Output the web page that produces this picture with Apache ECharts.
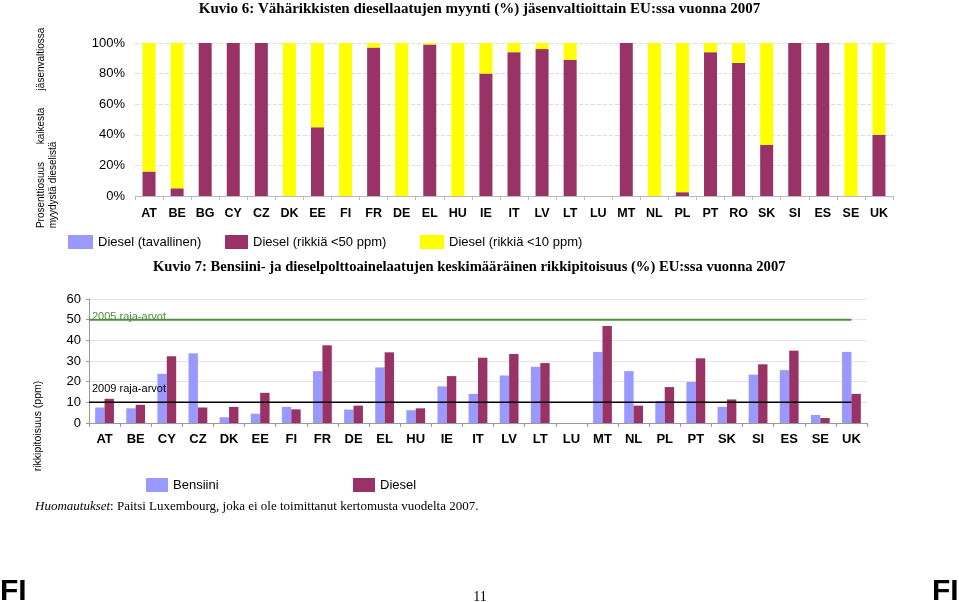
<!DOCTYPE html>
<html>
<head>
<meta charset="utf-8">
<script src="https://cdn.jsdelivr.net/npm/echarts@6/dist/echarts.min.js"></script>
<style>
html,body{margin:0;padding:0;background:#fff;}
#c{width:959px;height:602px;}
</style>
</head>
<body>
<div id="c"></div>
<script>
// ---- Kuvio 6 data ----
const maat6 = ['AT','BE','BG','CY','CZ','DK','EE','FI','FR','DE','EL','HU','IE','IT','LV','LT','LU','MT','NL','PL','PT','RO','SK','SI','ES','SE','UK'];
const dieselTavallinen = [0,0,0,0,0,0,0,0,0,0,0,0,0,0,0,0,0,0,0,0,0,0,0,0,0,0,0];
const dieselAlle50 = [16,5,100,100,100,0,45,0,97,0,99,0,80,94,96,89,0,100,0,2.5,94,87,33.5,100,100,0,40];
const dieselAlle10 = [84,95,0,0,0,100,55,100,3,100,1,100,20,6,4,11,0,0,100,97.5,6,13,66.5,0,0,100,60];
const yTicks6 = [0,20,40,60,80,100];

// ---- Kuvio 7 data ----
const maat7 = ['AT','BE','CY','CZ','DK','EE','FI','FR','DE','EL','HU','IE','IT','LV','LT','LU','MT','NL','PL','PT','SK','SI','ES','SE','UK'];
const bensiini = [7.5,7.1,23.8,33.7,2.8,4.5,7.8,25.1,6.5,26.9,6.2,17.7,14.1,23.0,27.2,null,34.4,25.1,10.7,19.9,7.8,23.4,25.6,3.9,34.4];
const diesel = [11.7,8.8,32.3,7.5,7.8,14.6,6.6,37.6,8.4,34.2,7.1,22.7,31.6,33.4,29.0,null,46.9,8.4,17.4,31.3,11.4,28.4,35.0,2.4,14.1];
const raja2005 = 50;
const raja2009 = 10;
const yTicks7 = [0,10,20,30,40,50,60];

const MAROON = '#993366', YELLOW = '#FFFF00', LBLUE = '#9999FF', GREEN = '#4E8F3E';
const SANS = 'Liberation Sans, Arial, sans-serif';
const SERIF = 'Liberation Serif, Times New Roman, serif';

const chart = echarts.init(document.getElementById('c'), null, {renderer:'canvas'});

const n7 = maat7.length;
const legText = {fontFamily:SANS, fontSize:13, color:'#000'};
const option = {
  animation:false,
  backgroundColor:'#fff',
  title:[
    {text:'Kuvio 6: Vähärikkisten diesellaatujen myynti (%) jäsenvaltioittain EU:ssa vuonna 2007',
     left:'center', top:-3, textStyle:{fontFamily:SERIF, fontWeight:'bold', fontSize:15, color:'#000'}},
    {text:'Kuvio 7: Bensiini- ja dieselpolttoainelaatujen keskimääräinen rikkipitoisuus (%) EU:ssa vuonna 2007',
     left:148, top:255, textStyle:{fontFamily:SERIF, fontWeight:'bold', fontSize:14.6, color:'#000'}}
  ],
  legend:[
    {data:['Diesel (tavallinen)'], left:68, top:235, padding:0, itemWidth:25, itemHeight:14, itemGap:4, icon:'rect', textStyle:legText},
    {data:['Diesel (rikkiä <50 ppm)'], left:225, top:235, padding:0, itemWidth:23, itemHeight:14, icon:'rect', textStyle:legText},
    {data:['Diesel (rikkiä <10 ppm)'], left:420, top:235, padding:0, itemWidth:24, itemHeight:14, icon:'rect', textStyle:legText},
    {data:['Bensiini'], left:146, top:478, padding:0, itemWidth:22, itemHeight:14, icon:'rect', textStyle:legText},
    {data:['Diesel'], left:353, top:478, padding:0, itemWidth:22, itemHeight:14, icon:'rect', textStyle:legText}
  ],
  grid:[
    {left:135, right:66, top:43, height:153},
    {left:89, right:92, top:299, height:124}
  ],
  xAxis:[
    {type:'category', gridIndex:0, data:maat6,
     axisLine:{lineStyle:{color:'#BBBBBB'}}, axisTick:{show:true, lineStyle:{color:'#BBBBBB'}, length:4},
     axisLabel:{fontFamily:SANS, fontWeight:'bold', fontSize:12.5, color:'#000', margin:11, interval:0}},
    {type:'category', gridIndex:1, data:maat7,
     axisLine:{lineStyle:{color:'#999999'}}, axisTick:{show:true, lineStyle:{color:'#999999'}, length:4},
     axisLabel:{fontFamily:SANS, fontWeight:'bold', fontSize:13, color:'#000', margin:10, interval:0}},
    {type:'value', gridIndex:1, min:0, max:n7, show:false}
  ],
  yAxis:[
    {type:'value', gridIndex:0, min:0, max:100, interval:20,
     axisLabel:{formatter:'{value}%', fontFamily:SANS, fontSize:13, color:'#000', margin:10},
     axisLine:{show:false}, axisTick:{show:false},
     splitLine:{lineStyle:{color:'#DDDDDD', type:'dashed'}}},
    {type:'value', gridIndex:1, min:0, max:60, interval:10,
     axisLabel:{fontFamily:SANS, fontSize:13, color:'#000', margin:8},
     axisLine:{show:true, lineStyle:{color:'#999999'}}, axisTick:{show:true, length:3, lineStyle:{color:'#999999'}},
     splitLine:{lineStyle:{color:'#E4E4E4'}}}
  ],
  series:[
    {name:'Diesel (tavallinen)', type:'bar', stack:'d', xAxisIndex:0, yAxisIndex:0, data:dieselTavallinen,
     barWidth:13, itemStyle:{color:LBLUE}},
    {name:'Diesel (rikkiä <50 ppm)', type:'bar', stack:'d', xAxisIndex:0, yAxisIndex:0, data:dieselAlle50,
     barWidth:13, itemStyle:{color:MAROON}},
    {name:'Diesel (rikkiä <10 ppm)', type:'bar', stack:'d', xAxisIndex:0, yAxisIndex:0, data:dieselAlle10,
     barWidth:13, itemStyle:{color:YELLOW}},
    {name:'Bensiini', type:'bar', xAxisIndex:1, yAxisIndex:1, data:bensiini,
     barWidth:9.4, barGap:'0%', itemStyle:{color:LBLUE}},
    {name:'Diesel', type:'bar', xAxisIndex:1, yAxisIndex:1, data:diesel,
     barWidth:9.4, barGap:'0%', itemStyle:{color:MAROON}},
    {name:'2005 raja-arvot', type:'line', xAxisIndex:2, yAxisIndex:1, symbol:'circle', symbolSize:0.01, showSymbol:true,
     lineStyle:{color:GREEN, width:2}, z:5,
     label:{show:false},
     data:[{value:[0,raja2005], label:{show:true, formatter:'2005 raja-arvot', position:'right', offset:[-2,-3], color:GREEN, fontFamily:SANS, fontSize:11}},
           [n7-0.5,raja2005]]},
    {name:'2009 raja-arvot', type:'line', xAxisIndex:2, yAxisIndex:1, symbol:'circle', symbolSize:0.01, showSymbol:true,
     lineStyle:{color:'#000', width:1.5}, z:5,
     label:{show:false},
     data:[{value:[0,raja2009], label:{show:true, formatter:'2009 raja-arvot', position:'right', offset:[-2,-13], color:'#000', fontFamily:SANS, fontSize:11}},
           [n7-0.5,raja2009]]}
  ],
  graphic:[
    {type:'text', x:41, y:59, rotation:Math.PI/2, style:{text:'jäsenvaltiossa', font:'10px '+SANS, fill:'#000', textAlign:'center', textVerticalAlign:'middle'}},
    {type:'text', x:41, y:126, rotation:Math.PI/2, style:{text:'kaikesta', font:'10px '+SANS, fill:'#000', textAlign:'center', textVerticalAlign:'middle'}},
    {type:'text', x:41, y:195, rotation:Math.PI/2, style:{text:'Prosenttiosuus', font:'10px '+SANS, fill:'#000', textAlign:'center', textVerticalAlign:'middle'}},
    {type:'text', x:53, y:185, rotation:Math.PI/2, style:{text:'myydystä dieselistä', font:'10px '+SANS, fill:'#000', textAlign:'center', textVerticalAlign:'middle'}},
    {type:'text', x:38, y:426, rotation:Math.PI/2, style:{text:'rikkipitoisuus (ppm)', font:'10.5px '+SANS, fill:'#000', textAlign:'center', textVerticalAlign:'middle'}},
    {type:'text', x:35, y:500, style:{rich:{i:{fontStyle:'italic', fontFamily:SERIF, fontSize:13, fill:'#000'}, n:{fontFamily:SERIF, fontSize:13, fill:'#000'}},
      text:'{i|Huomautukset}{n|: Paitsi Luxembourg, joka ei ole toimittanut kertomusta vuodelta 2007.}'}},
    {type:'text', x:0, y:577, style:{text:'FI', font:'bold 30px "Liberation Sans Narrow", '+SANS, fill:'#000'}},
    {type:'text', x:932, y:577, style:{text:'FI', font:'bold 30px "Liberation Sans Narrow", '+SANS, fill:'#000'}},
    {type:'text', x:480, y:597, style:{text:'11', font:'14px '+SERIF, fill:'#000', textAlign:'center', textVerticalAlign:'middle'}}
  ]
};
chart.setOption(option);
</script>
</body>
</html>
